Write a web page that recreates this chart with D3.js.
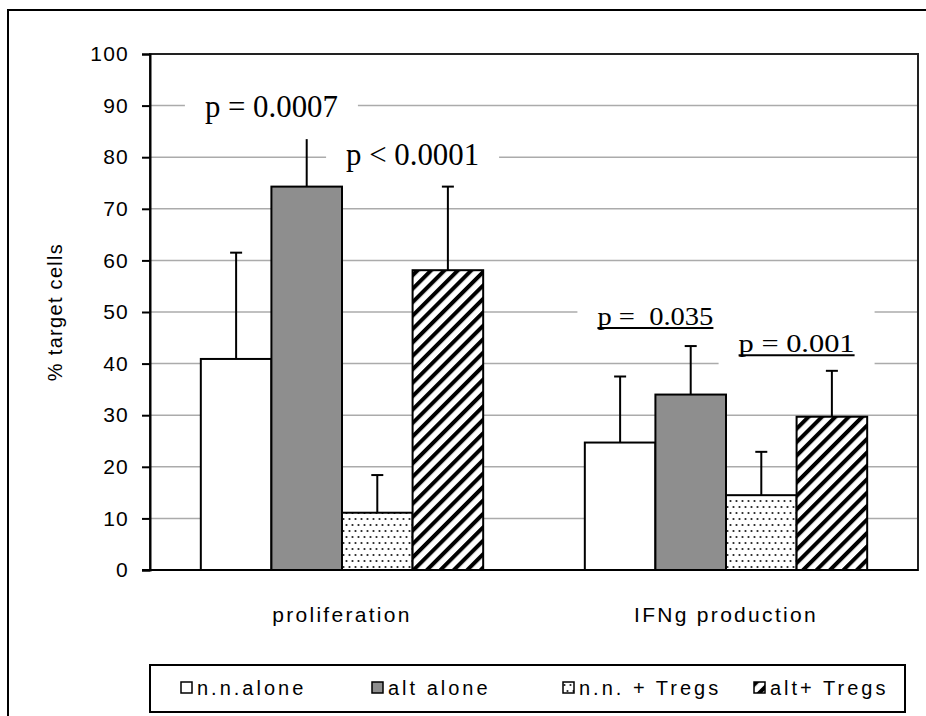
<!DOCTYPE html>
<html>
<head>
<meta charset="utf-8">
<script src="https://cdn.jsdelivr.net/npm/d3@7"></script>
<style>
  body { margin: 0; background: #fff; }
  svg { display: block; }
</style>
</head>
<body>
<div id="chart"></div>
<script>
/* DATA */
const categories = ["proliferation", "IFNg production"];
const series = ["n.n.alone", "alt alone", "n.n. + Tregs", "alt+ Tregs"];
// mean % target cells, per category
const nnAlone = [40.9, 24.7];
const altAlone = [74.3, 34.0];
const nnTregs = [11.1, 14.5];
const altTregs = [58.1, 29.7];
// upper error (SD)
const nnAloneErr = [20.6, 12.8];
const altAloneErr = [9.8, 9.4];
const nnTregsErr = [7.3, 8.4];
const altTregsErr = [16.2, 8.9];
const yTicks = [0, 10, 20, 30, 40, 50, 60, 70, 80, 90, 100];
// p-value notes: category index, series boundary index, baseline value, box top/bottom values
const notes = [
  { text: "p = 0.0007", cat: 0, at: 1, value: 87.8, top: 94.0, bottom: 83.5, underline: false },
  { text: "p < 0.0001", cat: 0, at: 3, value: 78.5, top: 83.7, bottom: 75.6, underline: false },
  { text: "p =  0.035", cat: 1, at: 1, value: 47.5, top: 53.1, bottom: 44.6, underline: true },
  { text: "p = 0.001", cat: 1, at: 3, value: 42.2, top: 52.3, bottom: 39.3, underline: true }
];

const means = [nnAlone, altAlone, nnTregs, altTregs];
const errs = [nnAloneErr, altAloneErr, nnTregsErr, altTregsErr];
const fills = ["#ffffff", "#8e8e8e", "url(#dots)", "url(#hatch)"];

const rows = [];
categories.forEach((c, ci) => {
  series.forEach((s, si) => {
    rows.push({ cat: c, series: s, si: si, value: means[si][ci], err: errs[si][ci] });
  });
});

/* CONSTANTS */
const width = 926, height = 716;
const margin = { top: 54, right: 8, bottom: 146, left: 150 };
const sans = "Liberation Sans, Arial, sans-serif";

const svg = d3.select("#chart").append("svg")
  .attr("width", width)
  .attr("height", height);

const defs = svg.append("defs");
const dots = defs.append("pattern")
  .attr("id", "dots")
  .attr("patternUnits", "userSpaceOnUse")
  .attr("width", 6).attr("height", 12);
dots.append("rect").attr("width", 6).attr("height", 12).attr("fill", "#fff");
dots.append("circle").attr("cx", 1.5).attr("cy", 3).attr("r", 1.1).attr("fill", "#222");
dots.append("circle").attr("cx", 4.5).attr("cy", 9).attr("r", 1.1).attr("fill", "#222");

const hatch = defs.append("pattern")
  .attr("id", "hatch")
  .attr("patternUnits", "userSpaceOnUse")
  .attr("width", 9.5).attr("height", 9.5)
  .attr("patternTransform", "rotate(45)");
hatch.append("rect").attr("width", 9.5).attr("height", 9.5).attr("fill", "#fff");
hatch.append("rect").attr("width", 4).attr("height", 9.5).attr("fill", "#000");

// outer frame
svg.append("rect")
  .attr("x", 8).attr("y", 10)
  .attr("width", 940).attr("height", 720)
  .attr("fill", "none").attr("stroke", "#000").attr("stroke-width", 2);

/* SCALES */
const x0 = d3.scaleBand()
  .domain(categories)
  .range([margin.left, width - margin.right])
  .paddingInner(0).paddingOuter(0);

const x1 = d3.scaleBand()
  .domain(series)
  .range([0, x0.bandwidth()])
  .paddingInner(0).paddingOuter(0.72);

const y = d3.scaleLinear()
  .domain([0, 100])
  .range([height - margin.bottom, margin.top]);

// gridlines
svg.append("g")
  .selectAll("line")
  .data(yTicks.filter(d => d > 0 && d < 100))
  .join("line")
  .attr("x1", margin.left).attr("x2", width - margin.right)
  .attr("y1", d => y(d)).attr("y2", d => y(d))
  .attr("stroke", "#ababab").attr("stroke-width", 1.5);

// plot border
svg.append("rect")
  .attr("x", margin.left).attr("y", margin.top)
  .attr("width", width - margin.right - margin.left)
  .attr("height", y(0) - margin.top)
  .attr("fill", "none").attr("stroke", "#222").attr("stroke-width", 2);

/* BARS */
svg.append("g")
  .selectAll("rect")
  .data(rows)
  .join("rect")
  .attr("x", d => x0(d.cat) + x1(d.series))
  .attr("y", d => y(d.value))
  .attr("width", x1.bandwidth())
  .attr("height", d => y(0) - y(d.value))
  .attr("fill", d => fills[d.si])
  .attr("stroke", "#000").attr("stroke-width", 2);

// error bars (upper only)
const eb = svg.append("g").attr("stroke", "#000").attr("stroke-width", 2);
eb.selectAll("line.v")
  .data(rows)
  .join("line").attr("class", "v")
  .attr("x1", d => x0(d.cat) + x1(d.series) + x1.bandwidth() / 2)
  .attr("x2", d => x0(d.cat) + x1(d.series) + x1.bandwidth() / 2)
  .attr("y1", d => y(d.value))
  .attr("y2", d => y(d.value + d.err));
eb.selectAll("line.cap")
  .data(rows)
  .join("line").attr("class", "cap")
  .attr("x1", d => x0(d.cat) + x1(d.series) + x1.bandwidth() / 2 - 6)
  .attr("x2", d => x0(d.cat) + x1(d.series) + x1.bandwidth() / 2 + 6)
  .attr("y1", d => y(d.value + d.err))
  .attr("y2", d => y(d.value + d.err));

/* AXES */
const yAxis = d3.axisLeft(y).tickValues(yTicks).tickSize(8).tickPadding(13);
const yAxisGroup = svg.append("g")
  .attr("transform", `translate(${margin.left},0)`)
  .call(yAxis);
yAxisGroup.select(".domain").attr("stroke", "#000").attr("stroke-width", 2);
yAxisGroup.selectAll(".tick line").attr("stroke", "#000").attr("stroke-width", 2);
yAxisGroup.selectAll(".tick text")
  .attr("font-family", sans)
  .attr("font-size", 21)
  .attr("letter-spacing", 1.2)
  .attr("fill", "#000");

// x baseline
svg.append("line")
  .attr("x1", margin.left - 8).attr("x2", width - margin.right)
  .attr("y1", y(0)).attr("y2", y(0))
  .attr("stroke", "#000").attr("stroke-width", 2);

svg.append("g")
  .selectAll("text")
  .data(categories)
  .join("text")
  .attr("x", d => x0(d) + x0.bandwidth() / 2)
  .attr("y", y(0) + 52)
  .attr("text-anchor", "middle")
  .attr("font-family", sans)
  .attr("font-size", 21)
  .attr("letter-spacing", 2.3)
  .text(d => d);

svg.append("text")
  .attr("transform", `translate(62, ${(margin.top + y(0)) / 2}) rotate(-90)`)
  .attr("text-anchor", "middle")
  .attr("font-family", sans)
  .attr("font-size", 20)
  .attr("letter-spacing", 1.3)
  .text("% target cells");

/* P-VALUE NOTES */
const noteG = svg.append("g");
notes.forEach(n => {
  const cx = x0(categories[n.cat]) + x1(series[n.at]);
  const bg = noteG.append("rect").attr("fill", "#fff");
  const t = noteG.append("text")
    .attr("x", cx)
    .attr("y", y(n.value))
    .attr("text-anchor", "middle")
    .attr("font-family", "Liberation Serif, Times New Roman, serif")
    .attr("font-size", n.underline ? 25 : 32)
    .attr("textLength", n.underline ? 116 : 133)
    .attr("lengthAdjust", "spacingAndGlyphs")
    .style("white-space", "pre")
    .text(n.text);
  const b = t.node().getBBox();
  bg.attr("x", b.x - 20).attr("width", b.width + 40)
    .attr("y", y(n.top)).attr("height", y(n.bottom) - y(n.top));
  if (n.underline) {
    noteG.append("line")
      .attr("x1", b.x).attr("x2", b.x + b.width)
      .attr("y1", y(n.value) + 3).attr("y2", y(n.value) + 3)
      .attr("stroke", "#000").attr("stroke-width", 2);
  }
});

/* LEGEND */
const legend = svg.append("g");
legend.append("rect")
  .attr("x", 150).attr("y", 665)
  .attr("width", 755).attr("height", 47)
  .attr("fill", "#fff").attr("stroke", "#000").attr("stroke-width", 2);

const legendX = d3.scalePoint()
  .domain(series)
  .range([181, 754]);

const item = legend.selectAll("g.item")
  .data(series)
  .join("g").attr("class", "item")
  .attr("transform", d => `translate(${legendX(d)}, 682)`);
item.append("rect")
  .attr("width", 11).attr("height", 11)
  .attr("fill", (d, i) => fills[i])
  .attr("stroke", "#000").attr("stroke-width", 1.5);
item.append("text")
  .attr("x", 16).attr("y", 13)
  .attr("font-family", sans)
  .attr("font-size", 20)
  .attr("letter-spacing", 3)
  .text(d => d);
</script>
</body>
</html>
